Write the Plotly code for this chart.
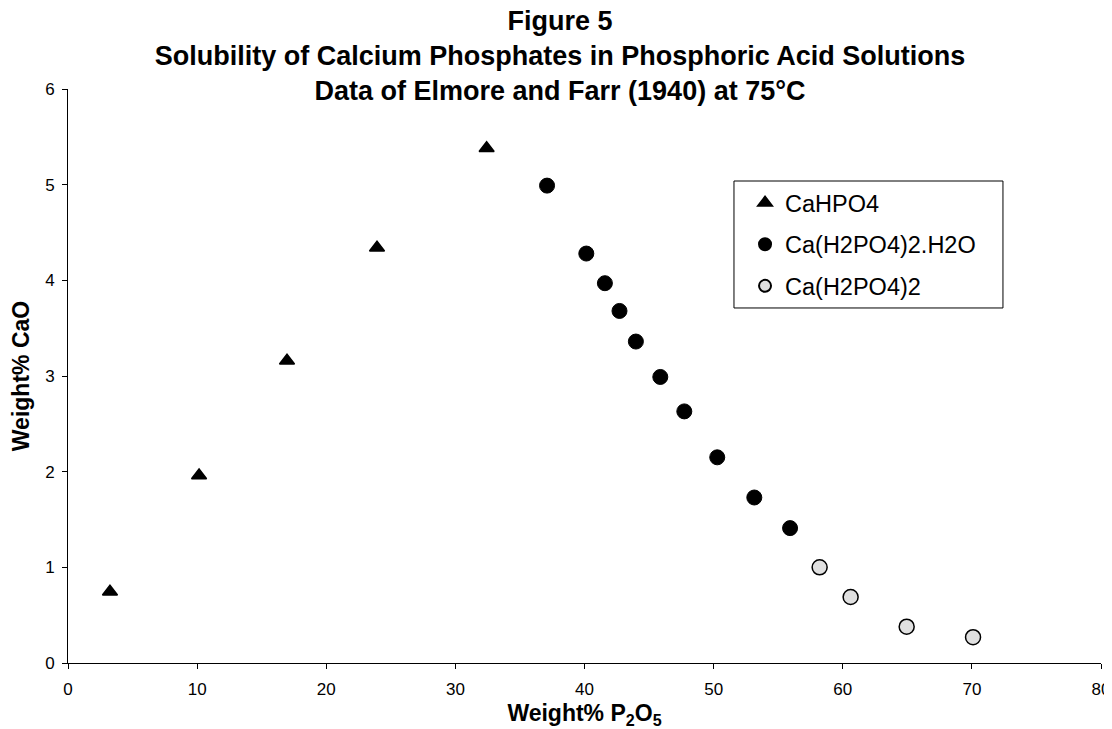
import plotly.graph_objects as go

# CaHPO4 solid phase
cahpo4_p2o5 = [3.25, 10.15, 16.96, 23.93, 32.42]
cahpo4_cao = [0.745, 1.96, 3.16, 4.34, 5.38]

# Ca(H2PO4)2.H2O solid phase
mcpm_p2o5 = [37.1, 40.14, 41.58, 42.71, 43.98, 45.87, 47.73, 50.28, 53.15, 55.92]
mcpm_cao = [4.99, 4.28, 3.97, 3.68, 3.36, 2.99, 2.63, 2.15, 1.73, 1.41]

# Ca(H2PO4)2 solid phase
mcpa_p2o5 = [58.21, 60.61, 64.95, 70.09]
mcpa_cao = [1.00, 0.69, 0.38, 0.27]

x_ticks = [0, 10, 20, 30, 40, 50, 60, 70, 80]
y_ticks = [0, 1, 2, 3, 4, 5, 6]

FONT = "Liberation Sans, Arial, sans-serif"

fig = go.Figure()
fig.add_trace(go.Scatter(
    x=cahpo4_p2o5, y=cahpo4_cao, mode="markers", name="CaHPO4",
    legendgroup="a",
    marker=dict(symbol="triangle-up", size=13, color="black",
                line=dict(color="black", width=1.5))))
fig.add_trace(go.Scatter(
    x=mcpm_p2o5, y=mcpm_cao, mode="markers", name="Ca(H2PO4)2.H2O",
    legendgroup="b",
    marker=dict(symbol="circle", size=15, color="black",
                line=dict(color="black", width=1))))
fig.add_trace(go.Scatter(
    x=mcpa_p2o5, y=mcpa_cao, mode="markers", name="Ca(H2PO4)2",
    legendgroup="c",
    marker=dict(symbol="circle", size=15, color="#e0e0e0",
                line=dict(color="black", width=1.5))))

# page has an 8px body margin, so the figure is sized to fit inside it
W, H = 1104, 721

fig.update_layout(
    width=W, height=H,
    paper_bgcolor="white", plot_bgcolor="white",
    margin=dict(l=60, r=11, t=81, b=66, autoexpand=False),
    font=dict(family=FONT, color="black", size=17),
    title=dict(
        text="Figure 5<br>Solubility of Calcium Phosphates in Phosphoric Acid Solutions"
             "<br>Data of Elmore and Farr (1940) at 75°C",
        x=0.5, xanchor="center", xref="container",
        y=1 - 22 / H, yanchor="top", yref="container",
        font=dict(family=FONT, size=27, weight="bold", color="black")),
    showlegend=True,
    legend=dict(
        x=0.6554, y=0.8398, xanchor="left", yanchor="top",
        bgcolor="rgba(0,0,0,0)", borderwidth=0,
        font=dict(family=FONT, size=23.5, color="black"),
        traceorder="grouped", tracegroupgap=8,
        itemsizing="constant"),
    shapes=[dict(type="rect", xref="paper", yref="paper",
                 x0=0.6447, x1=0.9051, y0=0.6185, y1=0.8397,
                 line=dict(color="black", width=1), fillcolor="rgba(0,0,0,0)",
                 layer="below")],
    xaxis=dict(
        range=[0, 80], tickvals=x_ticks, ticks="outside", ticklen=5,
        tickcolor="black", showline=True, linecolor="black", linewidth=1,
        showgrid=False, zeroline=False, tickfont=dict(size=17),
        ticklabelstandoff=6,
        title=dict(text="Weight% P<sub>2</sub>O<sub>5</sub>", standoff=18,
                   font=dict(size=23, weight="bold"))),
    yaxis=dict(
        range=[0, 6], tickvals=y_ticks, ticks="outside", ticklen=5,
        tickcolor="black", showline=True, linecolor="black", linewidth=1,
        showgrid=False, zeroline=False, tickfont=dict(size=17),
        ticklabelstandoff=4,
        title=dict(text="Weight% CaO", standoff=12,
                   font=dict(size=23, weight="bold"))),
)

fig.write_html("out.html")
